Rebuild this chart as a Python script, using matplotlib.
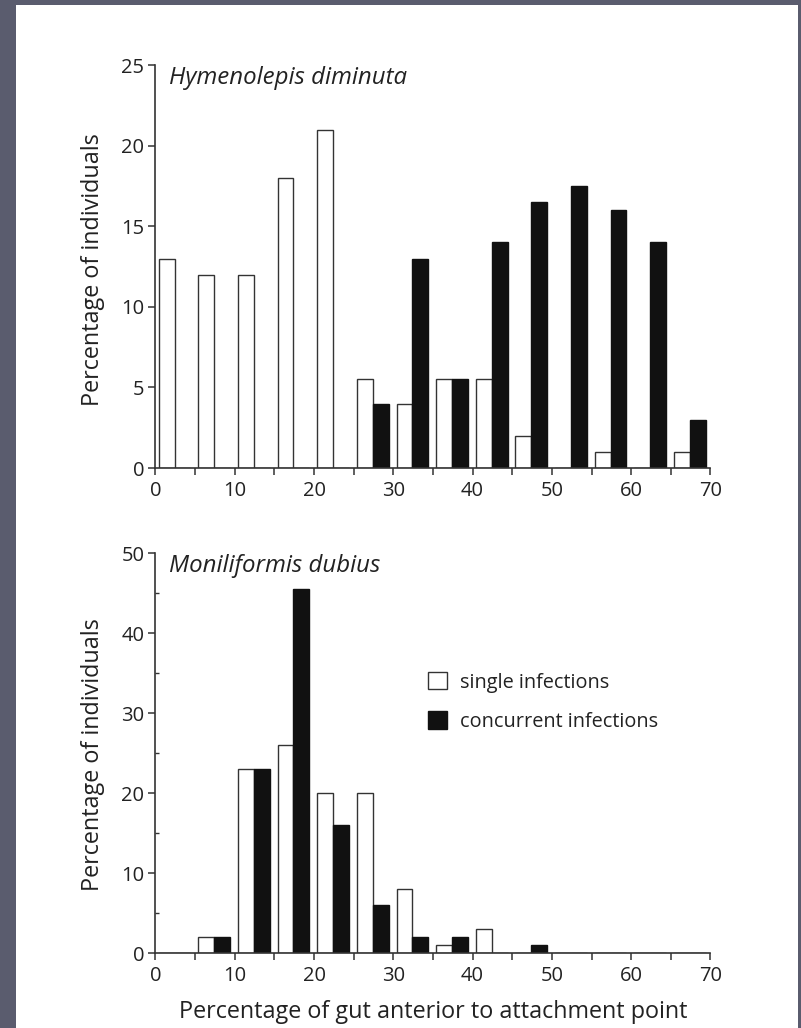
import numpy as np
import matplotlib
matplotlib.use('Agg')
import matplotlib.pyplot as plt
from matplotlib.patches import Patch, Rectangle

# bin starts (percentage of gut anterior to attachment point)
bins = [0, 5, 10, 15, 20, 25, 30, 35, 40, 45, 50, 55, 60, 65]

# Hymenolepis diminuta
hd_single = [13, 12, 12, 18, 21, 5.5, 4, 5.5, 5.5, 2, 0, 1, 0, 1]
hd_concurrent = [0, 0, 0, 0, 0, 4, 13, 5.5, 14, 16.5, 17.5, 16, 14, 3]

# Moniliformis dubius
md_single = [0, 2, 23, 26, 20, 20, 8, 1, 3, 0, 0, 0, 0, 0]
md_concurrent = [0, 2, 23, 45.5, 16, 6, 2, 2, 0, 1, 0, 0, 0, 0]

plt.rcParams['font.family'] = ['Open Sans', 'DejaVu Sans']
ink = '#222222'

fig = plt.figure(figsize=(8.01, 10.28), dpi=100)
fig.patch.set_facecolor('#5a5c6e')
# white page on the slide
page = Rectangle((16 / 801, 0), (798 - 16) / 801, 1 - 5 / 1028,
                 transform=fig.transFigure, facecolor='white',
                 edgecolor='none', zorder=-10)
fig.add_artist(page)

ax1 = fig.add_axes([0.1941, 0.5447, 0.6929, 0.392])
ax2 = fig.add_axes([0.1941, 0.0727, 0.6929, 0.389])


def draw(ax, single, concurrent, ymax, ystep, title):
    x = np.array(bins, dtype=float)
    ax.bar(x + 0.4, single, width=2.0, align='edge', color='white',
           edgecolor='#333333', linewidth=1.0, zorder=2)
    ax.bar(x + 2.4, concurrent, width=2.0, align='edge', color='#111111',
           edgecolor='#111111', linewidth=1.0, zorder=2)
    ax.set_xlim(0, 70)
    ax.set_ylim(0, ymax)
    ax.set_facecolor('none')
    for s in ['top', 'right']:
        ax.spines[s].set_visible(False)
    for s in ['left', 'bottom']:
        ax.spines[s].set_color('#333333')
        ax.spines[s].set_linewidth(1.2)
        ax.spines[s].set_zorder(3)
    ax.set_xticks(np.arange(0, 71, 10))
    ax.set_xticks(np.arange(5, 70, 10), minor=True)
    ax.set_yticks(np.arange(0, ymax + 1, ystep))
    ax.tick_params(axis='both', which='major', labelsize=14.5, colors='#333333',
                   labelcolor=ink, width=1.1, length=5, direction='out')
    ax.tick_params(axis='x', which='major', pad=4)
    ax.tick_params(axis='x', which='minor', width=1.1, length=5,
                   direction='out', colors='#333333')
    ax.tick_params(axis='y', which='major', pad=3)
    ax.text(0.025, 0.968, title, transform=ax.transAxes, ha='left',
            va='center', fontsize=17.3, style='italic', color=ink)


draw(ax1, hd_single, hd_concurrent, 25, 5, 'Hymenolepis diminuta')
draw(ax2, md_single, md_concurrent, 50, 10, 'Moniliformis dubius')
ax2.set_yticks(np.arange(5, 50, 10), minor=True)
ax2.tick_params(axis='y', which='minor', direction='in', length=3,
                width=1.0, colors='#333333')

fig.text(92.6 / 801, 1 - 270 / 1028, 'Percentage of individuals',
         rotation=90, ha='center', va='center', fontsize=16.8, color=ink)
fig.text(92.6 / 801, 1 - 755 / 1028, 'Percentage of individuals',
         rotation=90, ha='center', va='center', fontsize=16.8, color=ink)
fig.text(433.5 / 801, 1 - 1012 / 1028,
         'Percentage of gut anterior to attachment point',
         ha='center', va='center', fontsize=16.8, color=ink)

handles = [Patch(facecolor='white', edgecolor='#333333', linewidth=1.0),
           Patch(facecolor='#111111', edgecolor='#111111', linewidth=1.0)]
ax2.legend(handles, ['single infections', 'concurrent infections'],
           loc='upper left', bbox_to_anchor=(0.491, 0.703), frameon=False,
           fontsize=14.3, handlelength=0.95, handleheight=0.95,
           handletextpad=0.65, labelspacing=0.95, borderpad=0,
           borderaxespad=0, labelcolor=ink)

fig.savefig('out.png', dpi=100, facecolor=fig.get_facecolor())
